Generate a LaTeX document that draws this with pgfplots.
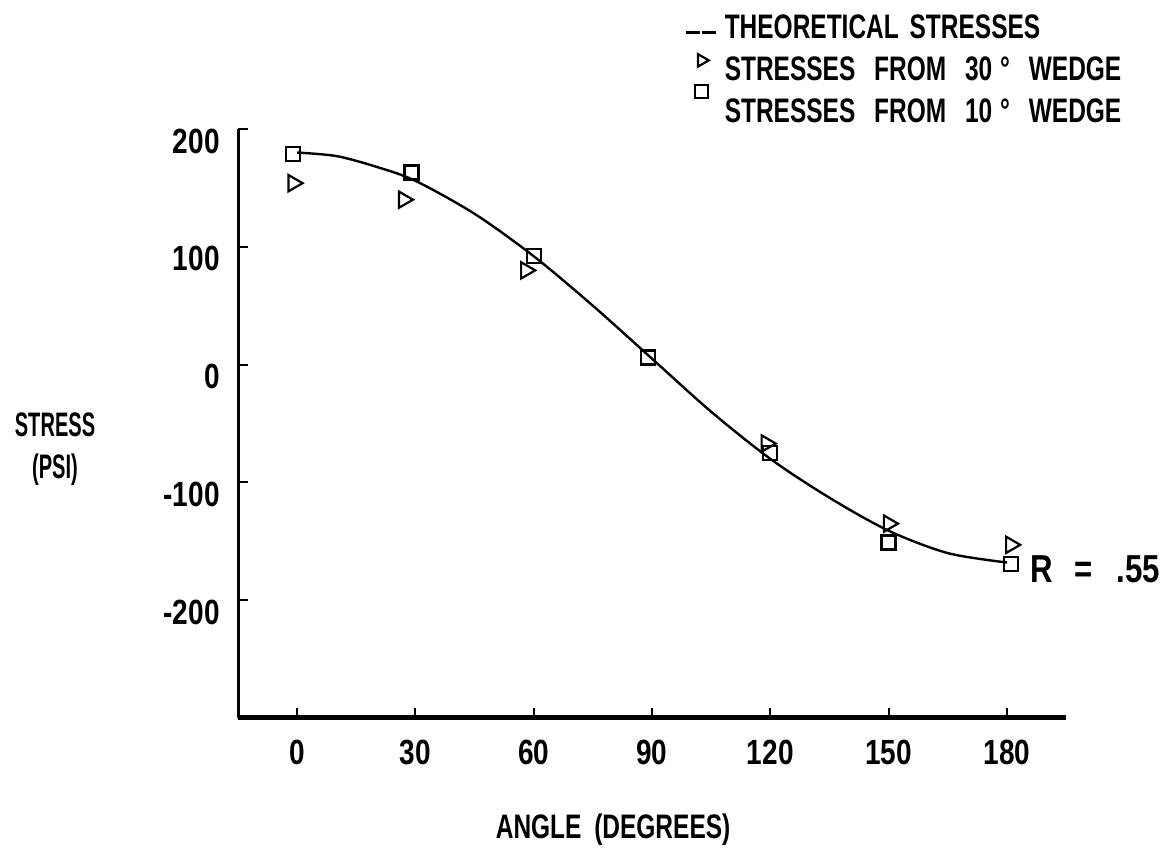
\documentclass[border=0pt]{standalone}
\usepackage{fontspec}
\usepackage{graphicx}
\setmainfont{Liberation Sans}[FakeStretch=0.72]
\newfontfamily\numfont{Liberation Sans}[FakeStretch=0.8]
\usepackage{pgfplots}
\pgfplotsset{compat=1.18}
\newcommand\lab{\fontsize{17}{20}\selectfont\bfseries}
\newcommand\numlab{\fontsize{17.5}{20}\selectfont\numfont\bfseries}
\begin{document}
\begin{tikzpicture}
\useasboundingbox (0,0) rectangle (583.5pt,425pt);
\begin{axis}[
  at={(119pt,66pt)}, anchor=south west,
  scale only axis, width=414pt, height=294.5pt,
  xmin=-15, xmax=195, ymin=-300, ymax=200,
  axis lines=left, axis line style={-},
  x axis line style={line width=2.5pt},
  y axis line style={line width=1.5pt},
  xtick={0,30,60,90,120,150,180},
  xticklabels={0,30,60,90,120,150,180},
  ytick={-200,-100,0,100,200},
  yticklabels={-200,-100,0,100,200},
  tick align=inside, major tick length=5pt,
  tick style={line width=1pt, black},
  xticklabel style={font=\numlab, anchor=north, inner sep=0pt, yshift=-11pt},
  yticklabel style={font=\numlab, anchor=east, inner sep=0pt, xshift=-9pt, yshift=-6pt},
  clip=false,
  legend cell align=left,
  legend style={at={(0.5386,1.1987)}, anchor=north west, draw=none, fill=none,
    font=\lab, inner sep=0pt, row sep=8pt, column sep=4pt,
    nodes={text height=13pt, text depth=0pt, inner sep=0pt}},
]
\addplot[black, line width=1.2pt, smooth,
  legend image code/.code={\path (0pt,0pt) (15pt,0pt); \draw[black,line width=1.2pt, dash pattern=on 7pt off 1pt] (0pt,-3.5pt) -- (15pt,-3.5pt);}]
  coordinates {(0,180) (10,177) (20,168) (30,156) (45,128) (60,92) (75,50) (90,5) (105,-40) (120,-80) (135,-113) (150,-141) (165,-160) (180,-168)};
\addlegendentry{THEORETICAL\hspace{2pt} STRESSES}
\addplot[only marks, black, mark=triangle, mark size=4.7pt, mark options={rotate=-90, line width=1.1pt, fill=none},
  legend image code/.code={\path (0pt,0pt) (15pt,0pt); \draw[black, line width=1.1pt, overlay] plot[only marks, mark=triangle, mark size=3.6pt, mark options={rotate=-90}] coordinates {(8pt,3.5pt)};}]
  coordinates {(-1,154) (27,140) (58,80) (119,-67) (150,-135) (181,-153)};
\addlegendentry{STRESSES\hspace{6pt} FROM\hspace{6pt} 30\hspace{4pt}°\hspace{6pt} WEDGE}
\addplot[only marks, black, mark=square, mark size=3.5pt, mark options={line width=1.1pt, fill=none},
  legend image code/.code={\path (0pt,0pt) (15pt,0pt); \draw[black, line width=1.1pt, overlay] plot[only marks, mark=square, mark size=3.3pt] coordinates {(8pt,9pt)};}]
  coordinates {(-1,179) (29,163) (60,92) (89,6) (120,-75) (150,-151) (181,-169)};
\addlegendentry{STRESSES\hspace{6pt} FROM\hspace{6pt} 10\hspace{4pt}°\hspace{6pt} WEDGE}
\node[anchor=west, font=\fontsize{19.5}{22}\selectfont\numfont\bfseries, inner sep=0pt] at (axis cs:185.8,-174) {R\hspace{11pt}=\hspace{12pt}.55};
\node[align=center, font=\lab, inner sep=0pt] at (rel axis cs:-0.221,0.457) {\scalebox{0.82}[1]{STRESS}\\[1pt]\scalebox{0.82}[1]{(PSI)}};
\node[font=\lab, inner sep=0pt] at (rel axis cs:0.453,-0.190) {ANGLE\hspace{3pt} (DEGREES)};
\end{axis}
\end{tikzpicture}
\end{document}
